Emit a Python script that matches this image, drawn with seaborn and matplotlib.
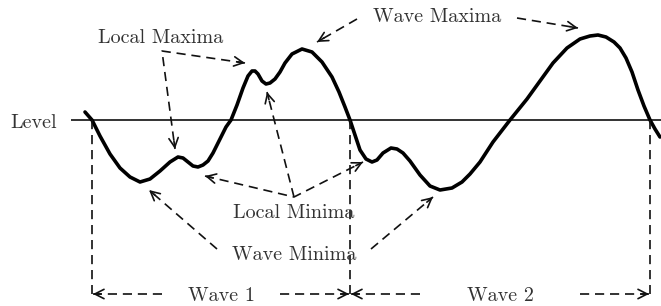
import numpy as np
import pandas as pd
import matplotlib
matplotlib.use("Agg")
import matplotlib.pyplot as plt
import seaborn as sns

# ------------------------------------------------------------------
# Wave record: position along the record and
# height above the reference level
# ------------------------------------------------------------------
wave_x = [85, 92, 100, 110, 120, 130, 140, 150, 160, 170, 178, 183, 188, 193,
          198, 203, 208, 213, 220, 226, 231, 237, 243, 248, 252, 255, 258, 262,
          266, 270, 275, 280, 285, 292, 302, 312, 322, 332, 339, 345, 350, 355,
          360, 366, 372, 377, 383, 391, 397, 403, 410, 420, 430, 440, 452, 462,
          470, 480, 493, 510, 527, 540, 553, 567, 580, 590, 598, 606, 614, 620,
          626, 632, 638, 644, 650, 655, 660]
wave_h = [8, 0, -16, -34, -48, -57, -62, -59, -51, -42, -37, -38, -42, -46,
          -47, -45, -41, -33, -19, -7, 0, 15, 32, 44, 49, 49, 46, 39,
          36, 37, 41, 48, 57, 66, 71, 68, 58, 43, 28, 13, 0, -15,
          -30, -39, -42, -40, -33, -28, -29, -33, -41, -55, -66, -70, -68, -62,
          -54, -42, -22, 0, 21, 39, 57, 72, 81, 84, 85, 83, 78, 72,
          62, 48, 30, 14, 0, -9, -17]

level = 0
level_start = 71

# zero crossings that split the record into waves
crossings = [92, 350, 650]
wave_labels = ["Wave 1", "Wave 2"]
wave_label_x = [221, 500]
wave_gap = [(162, 280), (420, 580)]   # where the dashed span is broken for the label
span_h = -174

# annotation labels: text, x, baseline height
labels = [("Local Maxima", 161, 77),
          ("Wave Maxima", 437, 98),
          ("Local Minima", 294, -98),
          ("Wave Minima", 294, -140)]

# dashed leader paths (arrow at every end listed last)
leaders = [
    ([245, 162, 175], [57, 69, -29], [0, 2]),      # local maxima
    ([357, 317], [101, 78], [1]),                   # wave max 1
    ([517, 578], [102, 92], [1]),                   # wave max 2
    ([205, 294, 363], [-56, -77, -42], [0, 2]),     # local minima
    ([294, 267], [-77, 28], [1]),                   # local min on crest
    ([217, 149], [-129, -70], [1]),                 # wave min 1
    ([371, 433], [-129, -77], [1]),                 # wave min 2
]

# ------------------------------------------------------------------
sns.set_theme(style="white")
plt.rcParams["font.family"] = ["cmr10", "DejaVu Serif"]
plt.rcParams["axes.formatter.use_mathtext"] = True

fig = plt.figure(figsize=(6.61, 3.06), dpi=100)
ax = fig.add_axes([0, 0, 1, 1])
ax.set_xlim(0, 661)
ax.set_ylim(-186, 120)
ax.set_axis_off()

text_color = "#333333"
dash_kw = dict(color="#111111", lw=1.2, dashes=(5.5, 3.5), solid_capstyle="butt")
head = dict(arrowstyle="->,head_length=0.55,head_width=0.28", color="#111111",
            lw=1.2, shrinkA=0, shrinkB=0)


def arrow_at(xs, ys, i):
    # small solid arrow head at point i of a path, pointing outwards
    j = 1 if i == 0 else i - 1
    tip = np.array([xs[i], ys[i]], dtype=float)
    prev = np.array([xs[j], ys[j]], dtype=float)
    d = (tip - prev) / np.linalg.norm(tip - prev)
    ax.annotate("", xy=tip, xytext=tip - d * 8, arrowprops=head)


# level line
ax.hlines(level, level_start, 661, color="#222222", lw=1.3)
ax.text(57, level - 8, "Level", ha="right", va="baseline", fontsize=14.5, color=text_color)

# the wave itself
df = pd.DataFrame({"x": wave_x, "h": wave_h})
sns.lineplot(data=df, x="x", y="h", sort=False, color="black", lw=2.6, ax=ax,
             solid_joinstyle="round", solid_capstyle="round")

# leaders
for xs, ys, ends in leaders:
    ax.plot(xs, ys, **dash_kw)
    for i in ends:
        arrow_at(xs, ys, i)

for txt, x, y in labels:
    ax.text(x, y, txt, ha="center", va="baseline", fontsize=14.5, color=text_color)

# wave spans
for c in crossings:
    ax.plot([c, c], [level, span_h], **dash_kw)
for k, (lab, lx) in enumerate(zip(wave_labels, wave_label_x)):
    a, b = crossings[k], crossings[k + 1]
    g1, g2 = wave_gap[k]
    left = ([g1, a + 1], [span_h, span_h])
    right = ([g2, b - 1], [span_h, span_h])
    for xs, ys in (left, right):
        ax.plot(xs, ys, **dash_kw)
        arrow_at(xs, ys, 1)
    ax.text(lx, span_h - 7, lab, ha="center", va="baseline", fontsize=14.5, color=text_color)

fig.savefig("out.png", dpi=100, facecolor="white")
